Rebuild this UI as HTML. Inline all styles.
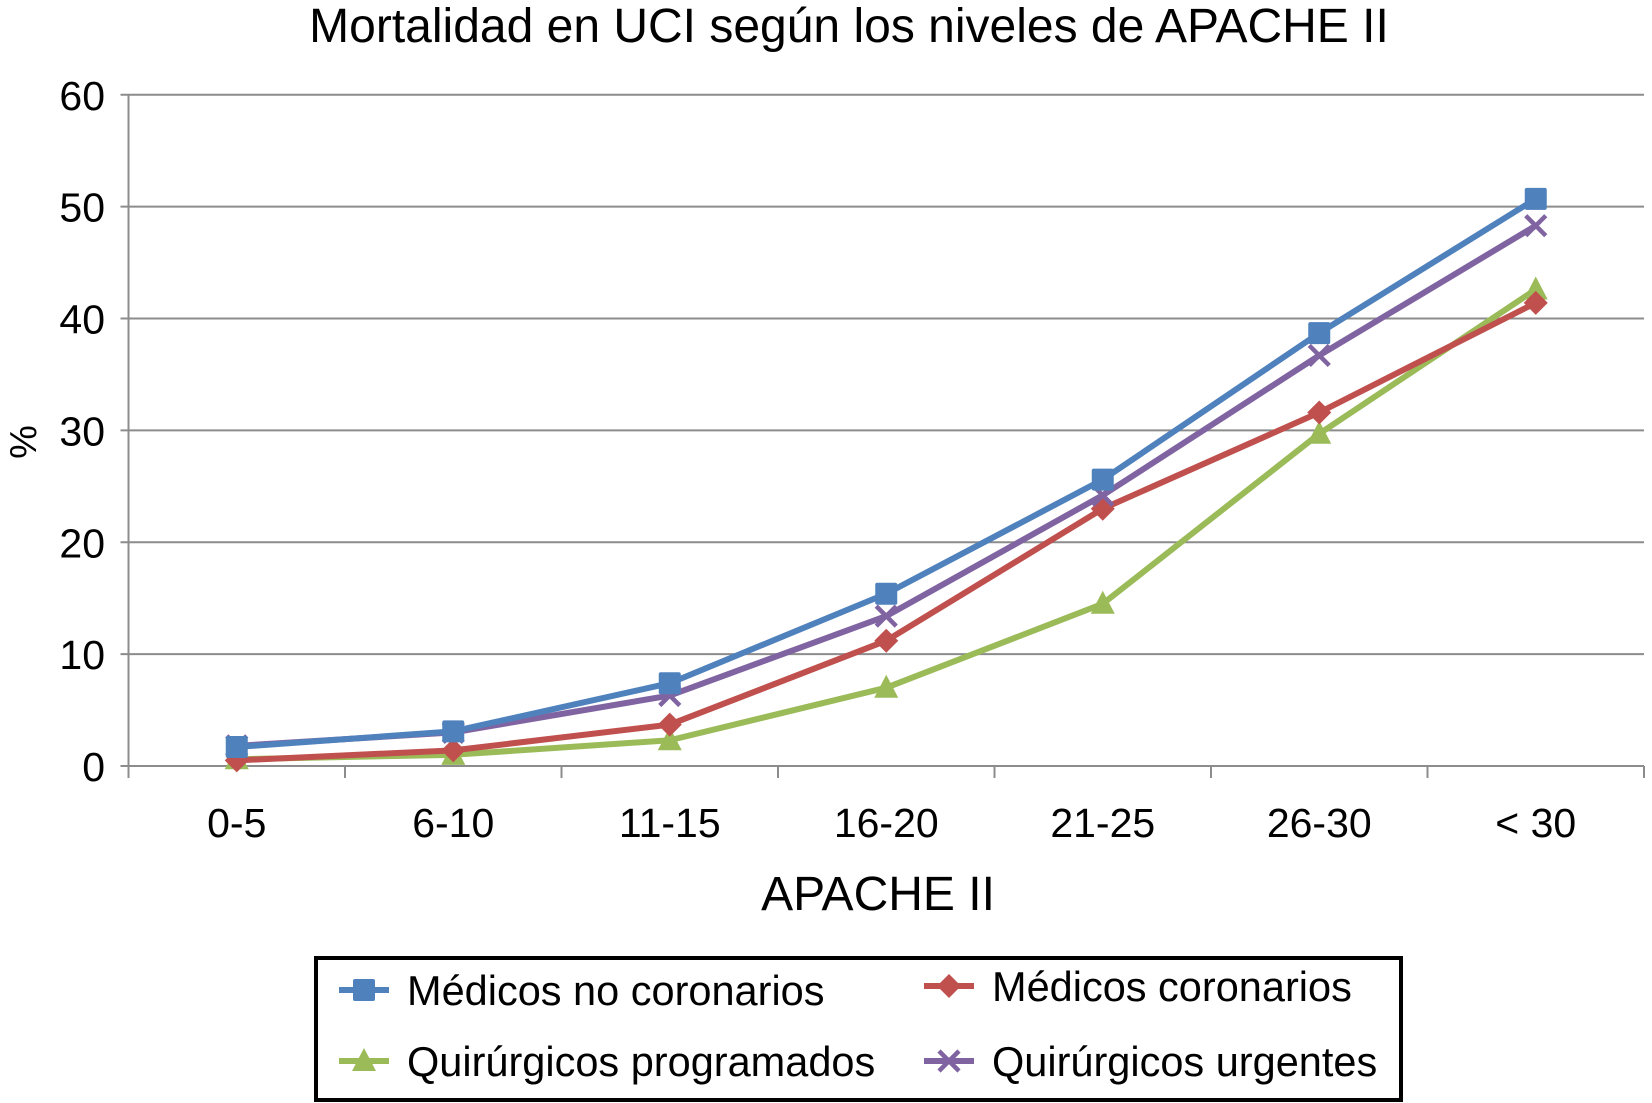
<!DOCTYPE html>
<html><head><meta charset="utf-8"><style>
body{margin:0;background:#fff;}
svg{display:block;font-family:"Liberation Sans",sans-serif;}
</style></head><body>
<svg id="chart" width="1652" height="1103" viewBox="0 0 1652 1103">
<text x="849" y="42" font-size="48" text-anchor="middle">Mortalidad en UCI según los niveles de APACHE II</text>
<g id="grid"></g>
<g id="series"></g>
<text x="878" y="910" font-size="48" text-anchor="middle">APACHE II</text>
<text transform="translate(36,442) rotate(-90)" font-size="38" text-anchor="middle">%</text>
<g>
<rect x="316" y="958" width="1085" height="142" fill="#fff" stroke="#000" stroke-width="4"/>
<g id="legend"></g>
</g>
</svg>
<script>
const categories=["0-5","6-10","11-15","16-20","21-25","26-30","< 30"];
const yTicks=[0,10,20,30,40,50,60];
const seriesNames=["Médicos no coronarios","Médicos coronarios","Quirúrgicos programados","Quirúrgicos urgentes"];
const medicosNoCoronarios=[1.7,3.1,7.4,15.4,25.6,38.7,50.7];
const medicosCoronarios=[0.5,1.4,3.7,11.2,23.0,31.6,41.4];
const quirurgicosProgramados=[0.6,1.0,2.3,7.0,14.5,29.7,42.6];
const quirurgicosUrgentes=[1.8,3.0,6.3,13.4,24.2,36.7,48.3];

const NS="http://www.w3.org/2000/svg";
const L=128.5,R=1644,T=94.8,B=766,YMAX=60;
const band=(R-L)/categories.length;
const xs=i=>L+band*(i+0.5);
const ys=v=>B-(v/YMAX)*(B-T);
function mk(t,a,p){const e=document.createElementNS(NS,t);for(const k in a)e.setAttribute(k,a[k]);p.appendChild(e);return e;}
const grid=document.getElementById('grid');
yTicks.forEach(v=>{
  const l=mk('line',{x1:L-8,x2:R,y1:ys(v),y2:ys(v),stroke:'#8c8c8c','stroke-width':2},grid);
  
  
  const t=mk('text',{x:105,y:ys(v)+15,'font-size':41,'text-anchor':'end'},grid);
  t.textContent=v;
  
  
});
const ax=mk('line',{x1:L,x2:L,y1:T,y2:B+12,stroke:'#8c8c8c','stroke-width':2},grid);


for(let i=0;i<=categories.length;i++){
  const tk=mk('line',{x1:L+band*i,x2:L+band*i,y1:B,y2:B+12,stroke:'#8c8c8c','stroke-width':2},grid);
  
  
}
categories.forEach((c,i)=>{
  const t=mk('text',{x:xs(i),y:837,'font-size':41,'text-anchor':'middle'},grid);
  t.textContent=c;
  
  
});
const colors=["#4F81BD","#C0504D","#9BBB59","#8064A2"];
const shapes=["square","diamond","triangle","x"];
function marker(shape,x,y,col,g){
  let e;
  if(shape==='square')e=mk('rect',{x:x-11,y:y-11,width:22,height:22,rx:2,fill:col},g);
  else if(shape==='diamond')e=mk('polygon',{points:`${x},${y-12} ${x+12},${y} ${x},${y+12} ${x-12},${y}`,fill:col},g);
  else if(shape==='triangle')e=mk('polygon',{points:`${x},${y-13} ${x+12},${y+10} ${x-12},${y+10}`,fill:col},g);
  else e=mk('path',{d:`M${x-10},${y-10}L${x+10},${y+10}M${x+10},${y-10}L${x-10},${y+10}`,stroke:col,'stroke-width':4.5,fill:'none'},g);
  return e;
}
const data=[medicosNoCoronarios,medicosCoronarios,quirurgicosProgramados,quirurgicosUrgentes];
const order=[2,1,3,0];
const sg=document.getElementById('series');
order.forEach(s=>{
  const g=mk('g',{},sg);
  
  
  const p=mk('polyline',{points:data[s].map((v,i)=>xs(i)+','+ys(v)).join(' '),fill:'none',stroke:colors[s],'stroke-width':6,'stroke-linejoin':'round'},g);
  
  
  data[s].forEach((v,i)=>{
    const m=marker(shapes[s],xs(i),ys(v),colors[s],g);
    
    
  });
});
const lg=document.getElementById('legend');
const pos=[[339,990],[924,986],[339,1061],[924,1061]];
seriesNames.forEach((n,s)=>{
  const [x,y]=pos[s];
  const g=mk('g',{},lg);
  
  
  mk('line',{x1:x,x2:x+50,y1:y,y2:y,stroke:colors[s],'stroke-width':6},g);
  marker(shapes[s],x+25,y,colors[s],g);
  const t=mk('text',{x:x+68,y:y+15,'font-size':41.5},g);
  t.textContent=n;
});
</script>
</body></html>
